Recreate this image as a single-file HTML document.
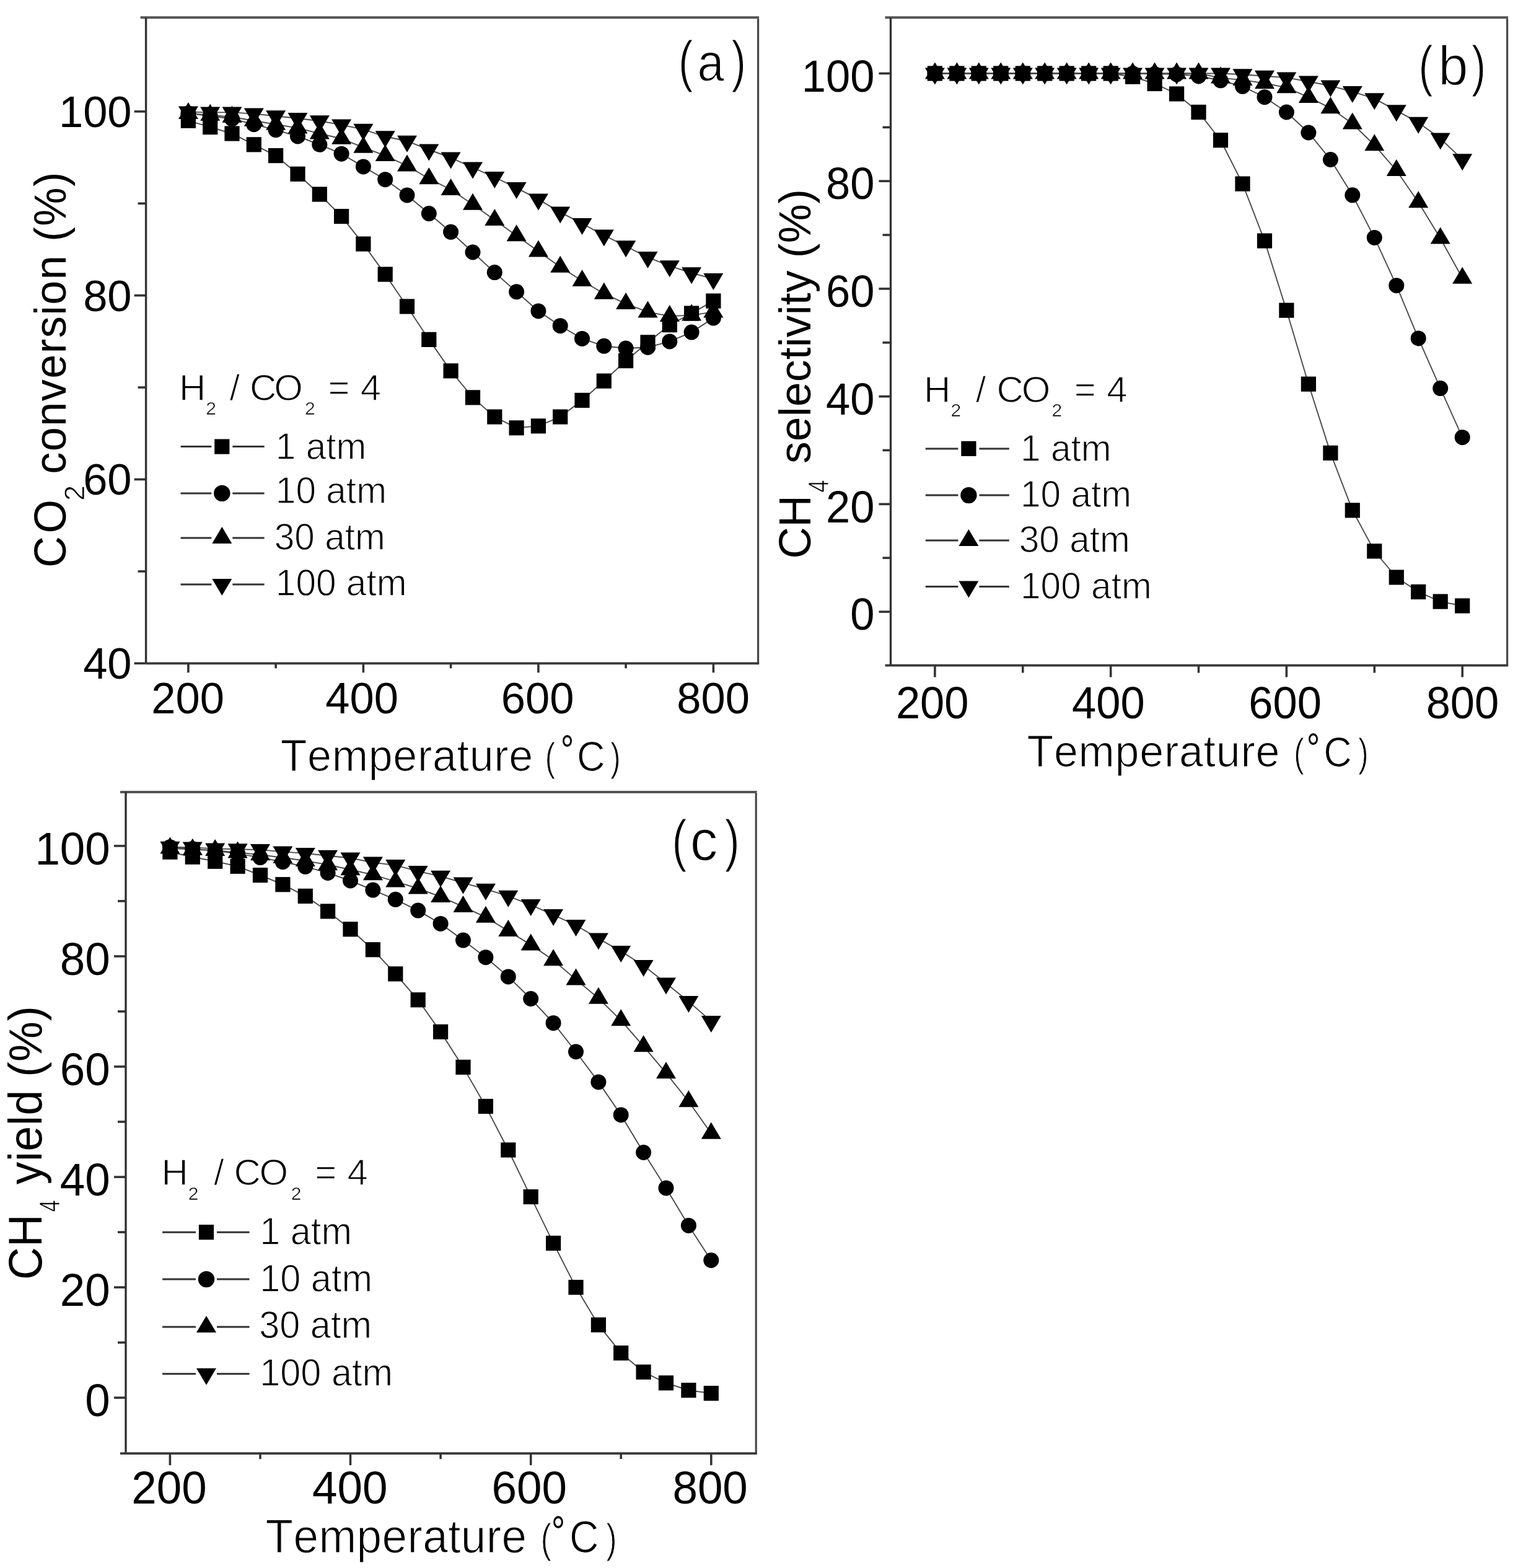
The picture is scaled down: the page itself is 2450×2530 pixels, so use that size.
<!DOCTYPE html>
<html><head><meta charset="utf-8"><title>Figure</title>
<style>html,body{margin:0;padding:0;background:#fff;overflow:hidden} svg{display:block} text{font-family:"Liberation Sans", Arial, sans-serif;fill:#000;font-kerning:none}</style>
</head><body>
<svg width="2450" height="2530" viewBox="0 0 2450 2530">
<rect width="2450" height="2530" fill="#fff"/>
<g>
<polyline points="303.9,194.7 339.2,205.1 374.5,215.5 409.8,233.3 445.1,251.1 480.5,280.8 515.8,313.5 551.1,349.1 586.4,393.6 621.7,442.6 657.0,494.5 692.3,547.9 727.6,598.4 763.0,641.4 798.3,672.6 833.6,690.4 868.9,687.4 904.2,672.6 939.5,645.9 974.8,614.7 1010.1,582.1 1045.5,552.4 1080.8,524.2 1116.1,505.6 1151.4,485.6" fill="none" stroke="#4a4a4a" stroke-width="1.9"/>
<polyline points="303.9,182.9 339.2,187.3 374.5,191.8 409.8,200.7 445.1,209.6 480.5,220.0 515.8,233.3 551.1,248.2 586.4,268.9 621.7,289.7 657.0,314.9 692.3,344.6 727.6,374.3 763.0,407.0 798.3,439.6 833.6,470.8 868.9,501.9 904.2,525.7 939.5,546.4 974.8,558.3 1010.1,562.0 1045.5,560.5 1080.8,550.9 1116.1,536.1 1151.4,513.1" fill="none" stroke="#4a4a4a" stroke-width="1.9"/>
<polyline points="303.9,182.9 339.2,185.8 374.5,188.8 409.8,194.7 445.1,200.7 480.5,206.6 515.8,215.5 551.1,223.7 586.4,237.8 621.7,251.1 657.0,267.5 692.3,288.2 727.6,306.0 763.0,329.8 798.3,355.0 833.6,380.2 868.9,405.5 904.2,430.7 939.5,453.0 974.8,473.7 1010.1,490.1 1045.5,503.4 1080.8,510.1 1116.1,508.6 1151.4,503.4" fill="none" stroke="#4a4a4a" stroke-width="1.9"/>
<polyline points="303.9,180.6 339.2,181.4 374.5,181.4 409.8,183.6 445.1,187.3 480.5,191.0 515.8,195.2 551.1,201.4 586.4,208.8 621.7,220.3 657.0,227.7 692.3,241.5 727.6,254.5 763.0,270.4 798.3,286.0 833.6,303.1 868.9,321.6 904.2,342.4 939.5,360.9 974.8,379.5 1010.1,397.3 1045.5,415.1 1080.8,429.2 1116.1,440.3 1151.4,450.0" fill="none" stroke="#4a4a4a" stroke-width="1.9"/>
<g fill="#000"><rect x="291.8" y="182.6" width="24.2" height="24.2"/><rect x="327.1" y="193.0" width="24.2" height="24.2"/><rect x="362.4" y="203.4" width="24.2" height="24.2"/><rect x="397.7" y="221.2" width="24.2" height="24.2"/><rect x="433.0" y="239.0" width="24.2" height="24.2"/><rect x="468.4" y="268.7" width="24.2" height="24.2"/><rect x="503.7" y="301.4" width="24.2" height="24.2"/><rect x="539.0" y="337.0" width="24.2" height="24.2"/><rect x="574.3" y="381.5" width="24.2" height="24.2"/><rect x="609.6" y="430.5" width="24.2" height="24.2"/><rect x="644.9" y="482.4" width="24.2" height="24.2"/><rect x="680.2" y="535.8" width="24.2" height="24.2"/><rect x="715.5" y="586.3" width="24.2" height="24.2"/><rect x="750.9" y="629.3" width="24.2" height="24.2"/><rect x="786.2" y="660.5" width="24.2" height="24.2"/><rect x="821.5" y="678.3" width="24.2" height="24.2"/><rect x="856.8" y="675.3" width="24.2" height="24.2"/><rect x="892.1" y="660.5" width="24.2" height="24.2"/><rect x="927.4" y="633.8" width="24.2" height="24.2"/><rect x="962.7" y="602.6" width="24.2" height="24.2"/><rect x="998.0" y="570.0" width="24.2" height="24.2"/><rect x="1033.4" y="540.3" width="24.2" height="24.2"/><rect x="1068.7" y="512.1" width="24.2" height="24.2"/><rect x="1104.0" y="493.5" width="24.2" height="24.2"/><rect x="1139.3" y="473.5" width="24.2" height="24.2"/></g>
<g fill="#000"><circle cx="303.9" cy="182.9" r="12.5"/><circle cx="339.2" cy="187.3" r="12.5"/><circle cx="374.5" cy="191.8" r="12.5"/><circle cx="409.8" cy="200.7" r="12.5"/><circle cx="445.1" cy="209.6" r="12.5"/><circle cx="480.5" cy="220.0" r="12.5"/><circle cx="515.8" cy="233.3" r="12.5"/><circle cx="551.1" cy="248.2" r="12.5"/><circle cx="586.4" cy="268.9" r="12.5"/><circle cx="621.7" cy="289.7" r="12.5"/><circle cx="657.0" cy="314.9" r="12.5"/><circle cx="692.3" cy="344.6" r="12.5"/><circle cx="727.6" cy="374.3" r="12.5"/><circle cx="763.0" cy="407.0" r="12.5"/><circle cx="798.3" cy="439.6" r="12.5"/><circle cx="833.6" cy="470.8" r="12.5"/><circle cx="868.9" cy="501.9" r="12.5"/><circle cx="904.2" cy="525.7" r="12.5"/><circle cx="939.5" cy="546.4" r="12.5"/><circle cx="974.8" cy="558.3" r="12.5"/><circle cx="1010.1" cy="562.0" r="12.5"/><circle cx="1045.5" cy="560.5" r="12.5"/><circle cx="1080.8" cy="550.9" r="12.5"/><circle cx="1116.1" cy="536.1" r="12.5"/><circle cx="1151.4" cy="513.1" r="12.5"/></g>
<g fill="#000"><polygon points="303.9,164.9 319.9,191.9 287.9,191.9"/><polygon points="339.2,167.8 355.2,194.8 323.2,194.8"/><polygon points="374.5,170.8 390.5,197.8 358.5,197.8"/><polygon points="409.8,176.7 425.8,203.7 393.8,203.7"/><polygon points="445.1,182.7 461.1,209.7 429.1,209.7"/><polygon points="480.5,188.6 496.5,215.6 464.5,215.6"/><polygon points="515.8,197.5 531.8,224.5 499.8,224.5"/><polygon points="551.1,205.7 567.1,232.7 535.1,232.7"/><polygon points="586.4,219.8 602.4,246.8 570.4,246.8"/><polygon points="621.7,233.1 637.7,260.1 605.7,260.1"/><polygon points="657.0,249.5 673.0,276.5 641.0,276.5"/><polygon points="692.3,270.2 708.3,297.2 676.3,297.2"/><polygon points="727.6,288.0 743.6,315.0 711.6,315.0"/><polygon points="763.0,311.8 779.0,338.8 747.0,338.8"/><polygon points="798.3,337.0 814.3,364.0 782.3,364.0"/><polygon points="833.6,362.2 849.6,389.2 817.6,389.2"/><polygon points="868.9,387.5 884.9,414.5 852.9,414.5"/><polygon points="904.2,412.7 920.2,439.7 888.2,439.7"/><polygon points="939.5,435.0 955.5,462.0 923.5,462.0"/><polygon points="974.8,455.7 990.8,482.7 958.8,482.7"/><polygon points="1010.1,472.1 1026.2,499.1 994.1,499.1"/><polygon points="1045.5,485.4 1061.5,512.4 1029.5,512.4"/><polygon points="1080.8,492.1 1096.8,519.1 1064.8,519.1"/><polygon points="1116.1,490.6 1132.1,517.6 1100.1,517.6"/><polygon points="1151.4,485.4 1167.4,512.4 1135.4,512.4"/></g>
<g fill="#000"><polygon points="287.9,171.6 319.9,171.6 303.9,198.6"/><polygon points="323.2,172.4 355.2,172.4 339.2,199.4"/><polygon points="358.5,172.4 390.5,172.4 374.5,199.4"/><polygon points="393.8,174.6 425.8,174.6 409.8,201.6"/><polygon points="429.1,178.3 461.1,178.3 445.1,205.3"/><polygon points="464.5,182.0 496.5,182.0 480.5,209.0"/><polygon points="499.8,186.2 531.8,186.2 515.8,213.2"/><polygon points="535.1,192.4 567.1,192.4 551.1,219.4"/><polygon points="570.4,199.8 602.4,199.8 586.4,226.8"/><polygon points="605.7,211.3 637.7,211.3 621.7,238.3"/><polygon points="641.0,218.7 673.0,218.7 657.0,245.7"/><polygon points="676.3,232.5 708.3,232.5 692.3,259.5"/><polygon points="711.6,245.5 743.6,245.5 727.6,272.5"/><polygon points="747.0,261.4 779.0,261.4 763.0,288.4"/><polygon points="782.3,277.0 814.3,277.0 798.3,304.0"/><polygon points="817.6,294.1 849.6,294.1 833.6,321.1"/><polygon points="852.9,312.6 884.9,312.6 868.9,339.6"/><polygon points="888.2,333.4 920.2,333.4 904.2,360.4"/><polygon points="923.5,351.9 955.5,351.9 939.5,378.9"/><polygon points="958.8,370.5 990.8,370.5 974.8,397.5"/><polygon points="994.1,388.3 1026.2,388.3 1010.1,415.3"/><polygon points="1029.5,406.1 1061.5,406.1 1045.5,433.1"/><polygon points="1064.8,420.2 1096.8,420.2 1080.8,447.2"/><polygon points="1100.1,431.3 1132.1,431.3 1116.1,458.3"/><polygon points="1135.4,441.0 1167.4,441.0 1151.4,468.0"/></g>
<line x1="226.6" y1="28.3" x2="1225.1" y2="28.3" stroke="#555" stroke-width="4"/>
<line x1="1223.6" y1="30.3" x2="1223.6" y2="1070.3" stroke="#474747" stroke-width="3.2"/>
<line x1="235.6" y1="28.3" x2="235.6" y2="1070.3" stroke="#333" stroke-width="3.4"/>
<line x1="235.6" y1="1070.3" x2="1225.1999999999998" y2="1070.3" stroke="#3a3a3a" stroke-width="3.8"/>
<line x1="216.6" y1="1070.3" x2="235.6" y2="1070.3" stroke="#333" stroke-width="3.6"/>
<line x1="222.6" y1="921.9" x2="235.6" y2="921.9" stroke="#333" stroke-width="3.6"/>
<line x1="216.6" y1="773.5" x2="235.6" y2="773.5" stroke="#333" stroke-width="3.6"/>
<line x1="222.6" y1="625.1" x2="235.6" y2="625.1" stroke="#333" stroke-width="3.6"/>
<line x1="216.6" y1="476.7" x2="235.6" y2="476.7" stroke="#333" stroke-width="3.6"/>
<line x1="222.6" y1="328.3" x2="235.6" y2="328.3" stroke="#333" stroke-width="3.6"/>
<line x1="216.6" y1="179.9" x2="235.6" y2="179.9" stroke="#333" stroke-width="3.6"/>
<line x1="303.9" y1="1070.3" x2="303.9" y2="1085.3" stroke="#333" stroke-width="3.6"/>
<line x1="445.1" y1="1070.3" x2="445.1" y2="1078.3" stroke="#333" stroke-width="3.6"/>
<line x1="586.4" y1="1070.3" x2="586.4" y2="1085.3" stroke="#333" stroke-width="3.6"/>
<line x1="727.6" y1="1070.3" x2="727.6" y2="1078.3" stroke="#333" stroke-width="3.6"/>
<line x1="868.9" y1="1070.3" x2="868.9" y2="1085.3" stroke="#333" stroke-width="3.6"/>
<line x1="1010.1" y1="1070.3" x2="1010.1" y2="1078.3" stroke="#333" stroke-width="3.6"/>
<line x1="1151.4" y1="1070.3" x2="1151.4" y2="1085.3" stroke="#333" stroke-width="3.6"/>
<polyline points="1508.9,118.5 1544.4,118.5 1579.8,118.5 1615.3,118.5 1650.8,118.5 1686.2,118.5 1721.7,118.5 1757.2,118.5 1792.7,118.5 1828.1,123.7 1863.6,135.0 1899.1,151.5 1934.5,181.0 1970.0,226.2 2005.5,296.6 2041.0,388.6 2076.4,500.7 2111.9,619.7 2147.4,730.9 2182.8,823.4 2218.3,889.3 2253.8,931.5 2289.2,955.0 2324.7,970.6 2360.2,977.5" fill="none" stroke="#4a4a4a" stroke-width="1.9"/>
<polyline points="1508.9,118.5 1544.4,118.5 1579.8,118.5 1615.3,118.5 1650.8,118.5 1686.2,118.5 1721.7,118.5 1757.2,118.5 1792.7,118.5 1828.1,118.5 1863.6,119.4 1899.1,119.8 1934.5,122.8 1970.0,129.8 2005.5,139.3 2041.0,156.7 2076.4,181.0 2111.9,214.0 2147.4,257.5 2182.8,314.8 2218.3,383.4 2253.8,460.7 2289.2,545.9 2324.7,626.6 2360.2,705.7" fill="none" stroke="#4a4a4a" stroke-width="1.9"/>
<polyline points="1508.9,118.5 1544.4,118.5 1579.8,118.5 1615.3,118.5 1650.8,118.5 1686.2,118.5 1721.7,118.5 1757.2,118.5 1792.7,118.5 1828.1,118.5 1863.6,118.5 1899.1,118.5 1934.5,118.5 1970.0,125.6 2005.5,129.1 2041.0,134.3 2076.4,141.3 2111.9,156.9 2147.4,174.3 2182.8,199.5 2218.3,234.2 2253.8,275.0 2289.2,326.3 2324.7,384.5 2360.2,448.7" fill="none" stroke="#4a4a4a" stroke-width="1.9"/>
<polyline points="1508.9,118.5 1544.4,118.5 1579.8,118.5 1615.3,118.5 1650.8,118.5 1686.2,118.5 1721.7,118.5 1757.2,118.5 1792.7,118.5 1828.1,118.5 1863.6,118.5 1899.1,118.5 1934.5,118.5 1970.0,118.5 2005.5,120.2 2041.0,122.8 2076.4,125.4 2111.9,131.5 2147.4,138.5 2182.8,147.9 2218.3,159.2 2253.8,178.3 2289.2,197.8 2324.7,223.4 2360.2,257.3" fill="none" stroke="#4a4a4a" stroke-width="1.9"/>
<g fill="#000"><rect x="1496.8" y="106.4" width="24.2" height="24.2"/><rect x="1532.3" y="106.4" width="24.2" height="24.2"/><rect x="1567.7" y="106.4" width="24.2" height="24.2"/><rect x="1603.2" y="106.4" width="24.2" height="24.2"/><rect x="1638.7" y="106.4" width="24.2" height="24.2"/><rect x="1674.2" y="106.4" width="24.2" height="24.2"/><rect x="1709.6" y="106.4" width="24.2" height="24.2"/><rect x="1745.1" y="106.4" width="24.2" height="24.2"/><rect x="1780.6" y="106.4" width="24.2" height="24.2"/><rect x="1816.0" y="111.6" width="24.2" height="24.2"/><rect x="1851.5" y="122.9" width="24.2" height="24.2"/><rect x="1887.0" y="139.4" width="24.2" height="24.2"/><rect x="1922.4" y="168.9" width="24.2" height="24.2"/><rect x="1957.9" y="214.1" width="24.2" height="24.2"/><rect x="1993.4" y="284.5" width="24.2" height="24.2"/><rect x="2028.9" y="376.5" width="24.2" height="24.2"/><rect x="2064.3" y="488.6" width="24.2" height="24.2"/><rect x="2099.8" y="607.6" width="24.2" height="24.2"/><rect x="2135.3" y="718.8" width="24.2" height="24.2"/><rect x="2170.7" y="811.3" width="24.2" height="24.2"/><rect x="2206.2" y="877.2" width="24.2" height="24.2"/><rect x="2241.7" y="919.4" width="24.2" height="24.2"/><rect x="2277.1" y="942.9" width="24.2" height="24.2"/><rect x="2312.6" y="958.5" width="24.2" height="24.2"/><rect x="2348.1" y="965.4" width="24.2" height="24.2"/></g>
<g fill="#000"><circle cx="1508.9" cy="118.5" r="12.5"/><circle cx="1544.4" cy="118.5" r="12.5"/><circle cx="1579.8" cy="118.5" r="12.5"/><circle cx="1615.3" cy="118.5" r="12.5"/><circle cx="1650.8" cy="118.5" r="12.5"/><circle cx="1686.2" cy="118.5" r="12.5"/><circle cx="1721.7" cy="118.5" r="12.5"/><circle cx="1757.2" cy="118.5" r="12.5"/><circle cx="1792.7" cy="118.5" r="12.5"/><circle cx="1828.1" cy="118.5" r="12.5"/><circle cx="1863.6" cy="119.4" r="12.5"/><circle cx="1899.1" cy="119.8" r="12.5"/><circle cx="1934.5" cy="122.8" r="12.5"/><circle cx="1970.0" cy="129.8" r="12.5"/><circle cx="2005.5" cy="139.3" r="12.5"/><circle cx="2041.0" cy="156.7" r="12.5"/><circle cx="2076.4" cy="181.0" r="12.5"/><circle cx="2111.9" cy="214.0" r="12.5"/><circle cx="2147.4" cy="257.5" r="12.5"/><circle cx="2182.8" cy="314.8" r="12.5"/><circle cx="2218.3" cy="383.4" r="12.5"/><circle cx="2253.8" cy="460.7" r="12.5"/><circle cx="2289.2" cy="545.9" r="12.5"/><circle cx="2324.7" cy="626.6" r="12.5"/><circle cx="2360.2" cy="705.7" r="12.5"/></g>
<g fill="#000"><polygon points="1508.9,100.5 1524.9,127.5 1492.9,127.5"/><polygon points="1544.4,100.5 1560.4,127.5 1528.4,127.5"/><polygon points="1579.8,100.5 1595.8,127.5 1563.8,127.5"/><polygon points="1615.3,100.5 1631.3,127.5 1599.3,127.5"/><polygon points="1650.8,100.5 1666.8,127.5 1634.8,127.5"/><polygon points="1686.2,100.5 1702.2,127.5 1670.2,127.5"/><polygon points="1721.7,100.5 1737.7,127.5 1705.7,127.5"/><polygon points="1757.2,100.5 1773.2,127.5 1741.2,127.5"/><polygon points="1792.7,100.5 1808.7,127.5 1776.7,127.5"/><polygon points="1828.1,100.5 1844.1,127.5 1812.1,127.5"/><polygon points="1863.6,100.5 1879.6,127.5 1847.6,127.5"/><polygon points="1899.1,100.5 1915.1,127.5 1883.1,127.5"/><polygon points="1934.5,100.5 1950.5,127.5 1918.5,127.5"/><polygon points="1970.0,107.6 1986.0,134.6 1954.0,134.6"/><polygon points="2005.5,111.1 2021.5,138.1 1989.5,138.1"/><polygon points="2041.0,116.3 2057.0,143.3 2025.0,143.3"/><polygon points="2076.4,123.3 2092.4,150.3 2060.4,150.3"/><polygon points="2111.9,138.9 2127.9,165.9 2095.9,165.9"/><polygon points="2147.4,156.3 2163.4,183.3 2131.4,183.3"/><polygon points="2182.8,181.5 2198.8,208.5 2166.8,208.5"/><polygon points="2218.3,216.2 2234.3,243.2 2202.3,243.2"/><polygon points="2253.8,257.0 2269.8,284.0 2237.8,284.0"/><polygon points="2289.2,308.3 2305.2,335.3 2273.2,335.3"/><polygon points="2324.7,366.5 2340.7,393.5 2308.7,393.5"/><polygon points="2360.2,430.7 2376.2,457.7 2344.2,457.7"/></g>
<g fill="#000"><polygon points="1492.9,109.5 1524.9,109.5 1508.9,136.5"/><polygon points="1528.4,109.5 1560.4,109.5 1544.4,136.5"/><polygon points="1563.8,109.5 1595.8,109.5 1579.8,136.5"/><polygon points="1599.3,109.5 1631.3,109.5 1615.3,136.5"/><polygon points="1634.8,109.5 1666.8,109.5 1650.8,136.5"/><polygon points="1670.2,109.5 1702.2,109.5 1686.2,136.5"/><polygon points="1705.7,109.5 1737.7,109.5 1721.7,136.5"/><polygon points="1741.2,109.5 1773.2,109.5 1757.2,136.5"/><polygon points="1776.7,109.5 1808.7,109.5 1792.7,136.5"/><polygon points="1812.1,109.5 1844.1,109.5 1828.1,136.5"/><polygon points="1847.6,109.5 1879.6,109.5 1863.6,136.5"/><polygon points="1883.1,109.5 1915.1,109.5 1899.1,136.5"/><polygon points="1918.5,109.5 1950.5,109.5 1934.5,136.5"/><polygon points="1954.0,109.5 1986.0,109.5 1970.0,136.5"/><polygon points="1989.5,111.2 2021.5,111.2 2005.5,138.2"/><polygon points="2025.0,113.8 2057.0,113.8 2041.0,140.8"/><polygon points="2060.4,116.4 2092.4,116.4 2076.4,143.4"/><polygon points="2095.9,122.5 2127.9,122.5 2111.9,149.5"/><polygon points="2131.4,129.5 2163.4,129.5 2147.4,156.5"/><polygon points="2166.8,138.9 2198.8,138.9 2182.8,165.9"/><polygon points="2202.3,150.2 2234.3,150.2 2218.3,177.2"/><polygon points="2237.8,169.3 2269.8,169.3 2253.8,196.3"/><polygon points="2273.2,188.8 2305.2,188.8 2289.2,215.8"/><polygon points="2308.7,214.4 2340.7,214.4 2324.7,241.4"/><polygon points="2344.2,248.3 2376.2,248.3 2360.2,275.3"/></g>
<line x1="1428.5" y1="28.3" x2="2434.1" y2="28.3" stroke="#555" stroke-width="4"/>
<line x1="2432.6" y1="30.3" x2="2432.6" y2="1073.6" stroke="#474747" stroke-width="3.2"/>
<line x1="1437.5" y1="28.3" x2="1437.5" y2="1073.6" stroke="#333" stroke-width="3.4"/>
<line x1="1428.5" y1="1073.6" x2="2434.2" y2="1073.6" stroke="#3a3a3a" stroke-width="3.8"/>
<line x1="1418.5" y1="987.1" x2="1437.5" y2="987.1" stroke="#333" stroke-width="3.6"/>
<line x1="1424.5" y1="900.2" x2="1437.5" y2="900.2" stroke="#333" stroke-width="3.6"/>
<line x1="1418.5" y1="813.4" x2="1437.5" y2="813.4" stroke="#333" stroke-width="3.6"/>
<line x1="1424.5" y1="726.5" x2="1437.5" y2="726.5" stroke="#333" stroke-width="3.6"/>
<line x1="1418.5" y1="639.7" x2="1437.5" y2="639.7" stroke="#333" stroke-width="3.6"/>
<line x1="1424.5" y1="552.8" x2="1437.5" y2="552.8" stroke="#333" stroke-width="3.6"/>
<line x1="1418.5" y1="465.9" x2="1437.5" y2="465.9" stroke="#333" stroke-width="3.6"/>
<line x1="1424.5" y1="379.1" x2="1437.5" y2="379.1" stroke="#333" stroke-width="3.6"/>
<line x1="1418.5" y1="292.2" x2="1437.5" y2="292.2" stroke="#333" stroke-width="3.6"/>
<line x1="1424.5" y1="205.4" x2="1437.5" y2="205.4" stroke="#333" stroke-width="3.6"/>
<line x1="1418.5" y1="118.5" x2="1437.5" y2="118.5" stroke="#333" stroke-width="3.6"/>
<line x1="1508.9" y1="1073.6" x2="1508.9" y2="1092.6" stroke="#333" stroke-width="3.6"/>
<line x1="1650.8" y1="1073.6" x2="1650.8" y2="1085.6" stroke="#333" stroke-width="3.6"/>
<line x1="1792.7" y1="1073.6" x2="1792.7" y2="1092.6" stroke="#333" stroke-width="3.6"/>
<line x1="1934.5" y1="1073.6" x2="1934.5" y2="1085.6" stroke="#333" stroke-width="3.6"/>
<line x1="2076.4" y1="1073.6" x2="2076.4" y2="1092.6" stroke="#333" stroke-width="3.6"/>
<line x1="2218.3" y1="1073.6" x2="2218.3" y2="1085.6" stroke="#333" stroke-width="3.6"/>
<line x1="2360.2" y1="1073.6" x2="2360.2" y2="1092.6" stroke="#333" stroke-width="3.6"/>
<polyline points="274.4,1374.7 310.8,1382.7 347.2,1389.8 383.6,1397.8 420.0,1412.1 456.4,1427.2 492.8,1445.9 529.1,1470.4 565.5,1499.3 601.9,1532.3 638.3,1571.4 674.7,1613.3 711.1,1664.9 747.5,1721.9 783.9,1785.1 820.3,1855.5 856.7,1931.1 893.1,2005.9 929.5,2077.1 965.9,2137.7 1002.2,2183.1 1038.6,2213.8 1075.0,2231.4 1111.4,2243.2 1147.8,2248.1" fill="none" stroke="#4a4a4a" stroke-width="1.9"/>
<polyline points="274.4,1366.7 310.8,1369.4 347.2,1372.9 383.6,1377.4 420.0,1383.6 456.4,1390.7 492.8,1398.3 529.1,1408.5 565.5,1421.0 601.9,1436.1 638.3,1451.3 674.7,1469.1 711.1,1490.4 747.5,1517.1 783.9,1544.7 820.3,1575.9 856.7,1611.5 893.1,1650.7 929.5,1697.0 965.9,1745.9 1002.2,1798.9 1038.6,1859.5 1075.0,1916.9 1111.4,1977.4 1147.8,2033.5" fill="none" stroke="#4a4a4a" stroke-width="1.9"/>
<polyline points="274.4,1368.6 310.8,1370.7 347.2,1372.1 383.6,1375.4 420.0,1379.2 456.4,1383.7 492.8,1389.0 529.1,1395.3 565.5,1403.3 601.9,1411.3 638.3,1422.4 674.7,1433.5 711.1,1446.9 747.5,1462.9 783.9,1479.8 820.3,1502.1 856.7,1524.4 893.1,1549.3 929.5,1580.4 965.9,1610.7 1002.2,1646.3 1038.6,1688.2 1075.0,1731.3 1111.4,1777.2 1147.8,1828.8" fill="none" stroke="#4a4a4a" stroke-width="1.9"/>
<polyline points="274.4,1366.7 310.8,1367.4 347.2,1369.4 383.6,1370.2 420.0,1371.1 456.4,1374.4 492.8,1376.9 529.1,1380.7 565.5,1384.5 601.9,1391.6 638.3,1396.1 674.7,1405.9 711.1,1413.8 747.5,1424.5 783.9,1434.7 820.3,1445.8 856.7,1460.1 893.1,1476.1 929.5,1493.0 965.9,1514.4 1002.2,1534.9 1038.6,1558.0 1075.0,1586.5 1111.4,1615.9 1147.8,1647.9" fill="none" stroke="#4a4a4a" stroke-width="1.9"/>
<g fill="#000"><rect x="262.3" y="1362.6" width="24.2" height="24.2"/><rect x="298.7" y="1370.6" width="24.2" height="24.2"/><rect x="335.1" y="1377.7" width="24.2" height="24.2"/><rect x="371.5" y="1385.7" width="24.2" height="24.2"/><rect x="407.9" y="1400.0" width="24.2" height="24.2"/><rect x="444.3" y="1415.1" width="24.2" height="24.2"/><rect x="480.7" y="1433.8" width="24.2" height="24.2"/><rect x="517.0" y="1458.3" width="24.2" height="24.2"/><rect x="553.4" y="1487.2" width="24.2" height="24.2"/><rect x="589.8" y="1520.2" width="24.2" height="24.2"/><rect x="626.2" y="1559.3" width="24.2" height="24.2"/><rect x="662.6" y="1601.2" width="24.2" height="24.2"/><rect x="699.0" y="1652.8" width="24.2" height="24.2"/><rect x="735.4" y="1709.8" width="24.2" height="24.2"/><rect x="771.8" y="1773.0" width="24.2" height="24.2"/><rect x="808.2" y="1843.4" width="24.2" height="24.2"/><rect x="844.6" y="1919.0" width="24.2" height="24.2"/><rect x="881.0" y="1993.8" width="24.2" height="24.2"/><rect x="917.4" y="2065.0" width="24.2" height="24.2"/><rect x="953.8" y="2125.6" width="24.2" height="24.2"/><rect x="990.1" y="2171.0" width="24.2" height="24.2"/><rect x="1026.5" y="2201.7" width="24.2" height="24.2"/><rect x="1062.9" y="2219.3" width="24.2" height="24.2"/><rect x="1099.3" y="2231.1" width="24.2" height="24.2"/><rect x="1135.7" y="2236.0" width="24.2" height="24.2"/></g>
<g fill="#000"><circle cx="274.4" cy="1366.7" r="12.5"/><circle cx="310.8" cy="1369.4" r="12.5"/><circle cx="347.2" cy="1372.9" r="12.5"/><circle cx="383.6" cy="1377.4" r="12.5"/><circle cx="420.0" cy="1383.6" r="12.5"/><circle cx="456.4" cy="1390.7" r="12.5"/><circle cx="492.8" cy="1398.3" r="12.5"/><circle cx="529.1" cy="1408.5" r="12.5"/><circle cx="565.5" cy="1421.0" r="12.5"/><circle cx="601.9" cy="1436.1" r="12.5"/><circle cx="638.3" cy="1451.3" r="12.5"/><circle cx="674.7" cy="1469.1" r="12.5"/><circle cx="711.1" cy="1490.4" r="12.5"/><circle cx="747.5" cy="1517.1" r="12.5"/><circle cx="783.9" cy="1544.7" r="12.5"/><circle cx="820.3" cy="1575.9" r="12.5"/><circle cx="856.7" cy="1611.5" r="12.5"/><circle cx="893.1" cy="1650.7" r="12.5"/><circle cx="929.5" cy="1697.0" r="12.5"/><circle cx="965.9" cy="1745.9" r="12.5"/><circle cx="1002.2" cy="1798.9" r="12.5"/><circle cx="1038.6" cy="1859.5" r="12.5"/><circle cx="1075.0" cy="1916.9" r="12.5"/><circle cx="1111.4" cy="1977.4" r="12.5"/><circle cx="1147.8" cy="2033.5" r="12.5"/></g>
<g fill="#000"><polygon points="274.4,1350.6 290.4,1377.6 258.4,1377.6"/><polygon points="310.8,1352.7 326.8,1379.7 294.8,1379.7"/><polygon points="347.2,1354.1 363.2,1381.1 331.2,1381.1"/><polygon points="383.6,1357.4 399.6,1384.4 367.6,1384.4"/><polygon points="420.0,1361.2 436.0,1388.2 404.0,1388.2"/><polygon points="456.4,1365.7 472.4,1392.7 440.4,1392.7"/><polygon points="492.8,1371.0 508.8,1398.0 476.8,1398.0"/><polygon points="529.1,1377.3 545.1,1404.3 513.1,1404.3"/><polygon points="565.5,1385.3 581.5,1412.3 549.5,1412.3"/><polygon points="601.9,1393.3 617.9,1420.3 585.9,1420.3"/><polygon points="638.3,1404.4 654.3,1431.4 622.3,1431.4"/><polygon points="674.7,1415.5 690.7,1442.5 658.7,1442.5"/><polygon points="711.1,1428.9 727.1,1455.9 695.1,1455.9"/><polygon points="747.5,1444.9 763.5,1471.9 731.5,1471.9"/><polygon points="783.9,1461.8 799.9,1488.8 767.9,1488.8"/><polygon points="820.3,1484.1 836.3,1511.1 804.3,1511.1"/><polygon points="856.7,1506.4 872.7,1533.4 840.7,1533.4"/><polygon points="893.1,1531.3 909.1,1558.3 877.1,1558.3"/><polygon points="929.5,1562.4 945.5,1589.4 913.5,1589.4"/><polygon points="965.9,1592.7 981.9,1619.7 949.9,1619.7"/><polygon points="1002.2,1628.3 1018.2,1655.3 986.2,1655.3"/><polygon points="1038.6,1670.2 1054.6,1697.2 1022.6,1697.2"/><polygon points="1075.0,1713.3 1091.0,1740.3 1059.0,1740.3"/><polygon points="1111.4,1759.2 1127.4,1786.2 1095.4,1786.2"/><polygon points="1147.8,1810.8 1163.8,1837.8 1131.8,1837.8"/></g>
<g fill="#000"><polygon points="258.4,1357.7 290.4,1357.7 274.4,1384.7"/><polygon points="294.8,1358.4 326.8,1358.4 310.8,1385.4"/><polygon points="331.2,1360.4 363.2,1360.4 347.2,1387.4"/><polygon points="367.6,1361.2 399.6,1361.2 383.6,1388.2"/><polygon points="404.0,1362.1 436.0,1362.1 420.0,1389.1"/><polygon points="440.4,1365.4 472.4,1365.4 456.4,1392.4"/><polygon points="476.8,1367.9 508.8,1367.9 492.8,1394.9"/><polygon points="513.1,1371.7 545.1,1371.7 529.1,1398.7"/><polygon points="549.5,1375.5 581.5,1375.5 565.5,1402.5"/><polygon points="585.9,1382.6 617.9,1382.6 601.9,1409.6"/><polygon points="622.3,1387.1 654.3,1387.1 638.3,1414.1"/><polygon points="658.7,1396.9 690.7,1396.9 674.7,1423.9"/><polygon points="695.1,1404.8 727.1,1404.8 711.1,1431.8"/><polygon points="731.5,1415.5 763.5,1415.5 747.5,1442.5"/><polygon points="767.9,1425.7 799.9,1425.7 783.9,1452.7"/><polygon points="804.3,1436.8 836.3,1436.8 820.3,1463.8"/><polygon points="840.7,1451.1 872.7,1451.1 856.7,1478.1"/><polygon points="877.1,1467.1 909.1,1467.1 893.1,1494.1"/><polygon points="913.5,1484.0 945.5,1484.0 929.5,1511.0"/><polygon points="949.9,1505.4 981.9,1505.4 965.9,1532.4"/><polygon points="986.2,1525.9 1018.2,1525.9 1002.2,1552.9"/><polygon points="1022.6,1549.0 1054.6,1549.0 1038.6,1576.0"/><polygon points="1059.0,1577.5 1091.0,1577.5 1075.0,1604.5"/><polygon points="1095.4,1606.9 1127.4,1606.9 1111.4,1633.9"/><polygon points="1131.8,1638.9 1163.8,1638.9 1147.8,1665.9"/></g>
<line x1="194.0" y1="1278.0" x2="1221.7" y2="1278.0" stroke="#555" stroke-width="4"/>
<line x1="1220.2" y1="1280.0" x2="1220.2" y2="2345.2" stroke="#474747" stroke-width="3.2"/>
<line x1="203.0" y1="1278.0" x2="203.0" y2="2345.2" stroke="#333" stroke-width="3.4"/>
<line x1="194.0" y1="2345.2" x2="1221.8" y2="2345.2" stroke="#3a3a3a" stroke-width="3.8"/>
<line x1="184.0" y1="2255.2" x2="203.0" y2="2255.2" stroke="#333" stroke-width="3.6"/>
<line x1="190.0" y1="2166.2" x2="203.0" y2="2166.2" stroke="#333" stroke-width="3.6"/>
<line x1="184.0" y1="2077.1" x2="203.0" y2="2077.1" stroke="#333" stroke-width="3.6"/>
<line x1="190.0" y1="1988.1" x2="203.0" y2="1988.1" stroke="#333" stroke-width="3.6"/>
<line x1="184.0" y1="1899.1" x2="203.0" y2="1899.1" stroke="#333" stroke-width="3.6"/>
<line x1="190.0" y1="1810.0" x2="203.0" y2="1810.0" stroke="#333" stroke-width="3.6"/>
<line x1="184.0" y1="1721.0" x2="203.0" y2="1721.0" stroke="#333" stroke-width="3.6"/>
<line x1="190.0" y1="1632.0" x2="203.0" y2="1632.0" stroke="#333" stroke-width="3.6"/>
<line x1="184.0" y1="1543.0" x2="203.0" y2="1543.0" stroke="#333" stroke-width="3.6"/>
<line x1="190.0" y1="1453.9" x2="203.0" y2="1453.9" stroke="#333" stroke-width="3.6"/>
<line x1="184.0" y1="1364.9" x2="203.0" y2="1364.9" stroke="#333" stroke-width="3.6"/>
<line x1="274.4" y1="2345.2" x2="274.4" y2="2364.2" stroke="#333" stroke-width="3.6"/>
<line x1="420.0" y1="2345.2" x2="420.0" y2="2354.2" stroke="#333" stroke-width="3.6"/>
<line x1="565.5" y1="2345.2" x2="565.5" y2="2364.2" stroke="#333" stroke-width="3.6"/>
<line x1="711.1" y1="2345.2" x2="711.1" y2="2354.2" stroke="#333" stroke-width="3.6"/>
<line x1="856.7" y1="2345.2" x2="856.7" y2="2364.2" stroke="#333" stroke-width="3.6"/>
<line x1="1002.2" y1="2345.2" x2="1002.2" y2="2354.2" stroke="#333" stroke-width="3.6"/>
<line x1="1147.8" y1="2345.2" x2="1147.8" y2="2364.2" stroke="#333" stroke-width="3.6"/>
<text transform="translate(134.14,1095.15) scale(1.0,1.01)" font-size="70.5">40</text>
<text transform="translate(134.14,798.35) scale(1.0,1.01)" font-size="70.5">60</text>
<text transform="translate(134.14,501.55) scale(1.0,1.01)" font-size="70.5">80</text>
<text transform="translate(94.93,204.75) scale(1.0,1.01)" font-size="70.5">100</text>
<text transform="translate(1372.15,1016.34) scale(1.0,1.03)" font-size="70.5">0</text>
<text transform="translate(1332.94,842.62) scale(1.0,1.03)" font-size="70.5">20</text>
<text transform="translate(1332.94,668.90) scale(1.0,1.03)" font-size="70.5">40</text>
<text transform="translate(1332.94,495.18) scale(1.0,1.03)" font-size="70.5">60</text>
<text transform="translate(1332.94,321.46) scale(1.0,1.03)" font-size="70.5">80</text>
<text transform="translate(1293.73,147.74) scale(1.0,1.03)" font-size="70.5">100</text>
<text transform="translate(137.36,2285.22) scale(1.0,1.02)" font-size="72.8">0</text>
<text transform="translate(96.87,2107.16) scale(1.0,1.02)" font-size="72.8">20</text>
<text transform="translate(96.87,1929.10) scale(1.0,1.02)" font-size="72.8">40</text>
<text transform="translate(96.87,1751.04) scale(1.0,1.02)" font-size="72.8">60</text>
<text transform="translate(96.87,1572.98) scale(1.0,1.02)" font-size="72.8">80</text>
<text transform="translate(56.38,1394.92) scale(1.0,1.02)" font-size="72.8">100</text>
<text transform="translate(244.29,1150.80) scale(1.0,1.01)" font-size="70.5">200</text>
<text transform="translate(525.35,1150.80) scale(1.0,1.01)" font-size="70.5">400</text>
<text transform="translate(808.87,1150.80) scale(1.0,1.01)" font-size="70.5">600</text>
<text transform="translate(1092.33,1150.80) scale(1.0,1.01)" font-size="70.5">800</text>
<text transform="translate(1445.89,1158.50) scale(1.0,1.03)" font-size="70.5">200</text>
<text transform="translate(1730.05,1158.50) scale(1.0,1.03)" font-size="70.5">400</text>
<text transform="translate(2015.37,1158.50) scale(1.0,1.03)" font-size="70.5">600</text>
<text transform="translate(2301.63,1158.50) scale(1.0,1.03)" font-size="70.5">800</text>
<text transform="translate(212.36,2425.90) scale(1.0,1.02)" font-size="72.8">200</text>
<text transform="translate(504.05,2425.90) scale(1.0,1.02)" font-size="72.8">400</text>
<text transform="translate(793.44,2425.90) scale(1.0,1.02)" font-size="72.8">600</text>
<text transform="translate(1085.41,2425.90) scale(1.0,1.02)" font-size="72.8">800</text>
<text transform="translate(1094.95,130.10) scale(0.78,1.0)" font-size="90" fill="#222" stroke="#fff" stroke-width="1.2">(</text>
<text transform="translate(1125.40,130.10) scale(0.8630671736375128,0.94)" font-size="90" fill="#222" stroke="#fff" stroke-width="1.5">a</text>
<text transform="translate(1180.49,130.10) scale(0.78,1.0)" font-size="90" fill="#222" stroke="#fff" stroke-width="1.2">)</text>
<text transform="translate(2289.40,136.80) scale(0.78,1.0)" font-size="89" fill="#222" stroke="#fff" stroke-width="1.2">(</text>
<text transform="translate(2321.31,136.80) scale(0.974417157705962,1.0)" font-size="89" fill="#222" stroke="#fff" stroke-width="1.5">b</text>
<text transform="translate(2374.99,136.80) scale(0.78,1.0)" font-size="89" fill="#222" stroke="#fff" stroke-width="1.2">)</text>
<text transform="translate(1084.55,1387.60) scale(0.78,1.0)" font-size="92" fill="#222" stroke="#fff" stroke-width="1.2">(</text>
<text transform="translate(1113.81,1387.60) scale(0.9706041656408488,1.0)" font-size="92" fill="#222" stroke="#fff" stroke-width="1.5">c</text>
<text transform="translate(1169.68,1387.60) scale(0.78,1.0)" font-size="92" fill="#222" stroke="#fff" stroke-width="1.2">)</text>
<text transform="translate(452.63,1244.30) scale(1.0,1.03)" font-size="70" letter-spacing="0.70" stroke="#fff" stroke-width="1.2">Temperature</text>
<text transform="translate(879.86,1244.30) scale(0.7,0.92)" font-size="70" fill="#222" stroke="#fff" stroke-width="1.2">(</text>
<text transform="translate(904.79,1234.39) scale(1.0,1.27)" font-size="53.9">°</text>
<text transform="translate(931.00,1244.30) scale(0.9,0.98)" font-size="70" stroke="#fff" stroke-width="1.2">C</text>
<text transform="translate(985.31,1244.30) scale(0.7,0.92)" font-size="70" fill="#222" stroke="#fff" stroke-width="1.2">)</text>
<text transform="translate(1657.43,1237.00) scale(1.0,1.03)" font-size="70" letter-spacing="0.73" stroke="#fff" stroke-width="1.2">Temperature</text>
<text transform="translate(2088.36,1237.00) scale(0.7,0.92)" font-size="70" fill="#222" stroke="#fff" stroke-width="1.2">(</text>
<text transform="translate(2108.79,1231.49) scale(1.0,1.27)" font-size="53.9">°</text>
<text transform="translate(2136.20,1237.00) scale(0.9,0.98)" font-size="70" stroke="#fff" stroke-width="1.2">C</text>
<text transform="translate(2192.21,1237.00) scale(0.7,0.92)" font-size="70" fill="#222" stroke="#fff" stroke-width="1.2">)</text>
<text transform="translate(428.46,2505.00) scale(1.0,1.03)" font-size="73" letter-spacing="0.38" stroke="#fff" stroke-width="1.2">Temperature</text>
<text transform="translate(872.83,2505.00) scale(0.7,0.92)" font-size="73" fill="#222" stroke="#fff" stroke-width="1.2">(</text>
<text transform="translate(889.85,2495.54) scale(1.0,1.27)" font-size="56.21">°</text>
<text transform="translate(918.96,2505.00) scale(0.9,0.98)" font-size="73" stroke="#fff" stroke-width="1.2">C</text>
<text transform="translate(978.50,2505.00) scale(0.7,0.92)" font-size="73" fill="#222" stroke="#fff" stroke-width="1.2">)</text>
<text transform="translate(105.60,915.75) rotate(-90) scale(1.0,1.03)" font-size="70" letter-spacing="4.60">CO</text>
<text transform="translate(136.30,807.96) rotate(-90) scale(1.0,1.03)" font-size="45" stroke="#fff" stroke-width="0.8">2</text>
<text transform="translate(105.60,764.67) rotate(-90) scale(1.0,1.03)" font-size="70" letter-spacing="1.55">conversion (%)</text>
<text transform="translate(1307.90,901.61) rotate(-90) scale(1.0,1.03)" font-size="71" letter-spacing="-0.25">CH</text>
<text transform="translate(1336.90,794.75) rotate(-90) scale(0.82,1.03)" font-size="45" stroke="#fff" stroke-width="0.8">4</text>
<text transform="translate(1307.90,747.88) rotate(-90) scale(1.0,1.03)" font-size="71" letter-spacing="0.36">selectivity (%)</text>
<text transform="translate(66.90,2064.91) rotate(-90) scale(1.0,1.03)" font-size="73" letter-spacing="0.12">CH</text>
<text transform="translate(95.90,1955.40) rotate(-90) scale(0.77,1.03)" font-size="45" stroke="#fff" stroke-width="0.8">4</text>
<text transform="translate(66.90,1911.18) rotate(-90) scale(1.0,1.03)" font-size="73" letter-spacing="0.51">yield (%)</text>
<text transform="translate(288.88,645.90)" font-size="60" fill="#505050" stroke="#fff" stroke-width="1.3">H</text>
<text transform="translate(332.19,668.60)" font-size="30" fill="#505050" stroke="#fff" stroke-width="0.6">2</text>
<text transform="translate(370.50,645.90)" font-size="60" fill="#505050" stroke="#fff" stroke-width="1.3">/</text>
<text transform="translate(402.95,645.90)" font-size="60" letter-spacing="-4.08" fill="#505050" stroke="#fff" stroke-width="1.3">CO</text>
<text transform="translate(492.09,668.60)" font-size="30" fill="#505050" stroke="#fff" stroke-width="0.6">2</text>
<text transform="translate(529.57,645.90)" font-size="60" fill="#505050" stroke="#fff" stroke-width="1.3">=</text>
<text transform="translate(581.82,645.90)" font-size="60" fill="#505050" stroke="#fff" stroke-width="1.3">4</text>
<line x1="291.6" y1="720.6" x2="341.3" y2="720.6" stroke="#333" stroke-width="3"/>
<line x1="375.3" y1="720.6" x2="426.6" y2="720.6" stroke="#333" stroke-width="3"/>
<g fill="#000"><rect x="346.2" y="708.5" width="24.2" height="24.2"/></g>
<text transform="translate(444.84,740.60) scale(1.0,1.045)" font-size="58.6" fill="#222" stroke="#fff" stroke-width="1.2">1 atm</text>
<line x1="291.6" y1="795.9" x2="341.3" y2="795.9" stroke="#333" stroke-width="3"/>
<line x1="375.3" y1="795.9" x2="426.6" y2="795.9" stroke="#333" stroke-width="3"/>
<g fill="#000"><circle cx="358.3" cy="795.9" r="13.2"/></g>
<text transform="translate(444.84,812.20) scale(1.0,1.045)" font-size="58.6" fill="#222" stroke="#fff" stroke-width="1.2">10 atm</text>
<line x1="291.6" y1="868" x2="341.3" y2="868" stroke="#333" stroke-width="3"/>
<line x1="375.3" y1="868" x2="426.6" y2="868" stroke="#333" stroke-width="3"/>
<g fill="#000"><polygon points="358.3,850.0 374.3,877.0 342.3,877.0"/></g>
<text transform="translate(442.77,887.20) scale(1.0,1.045)" font-size="58.6" fill="#222" stroke="#fff" stroke-width="1.2">30 atm</text>
<line x1="291.6" y1="943" x2="341.3" y2="943" stroke="#333" stroke-width="3"/>
<line x1="375.3" y1="943" x2="426.6" y2="943" stroke="#333" stroke-width="3"/>
<g fill="#000"><polygon points="342.3,934.0 374.3,934.0 358.3,961.0"/></g>
<text transform="translate(444.84,960.70) scale(1.0,1.045)" font-size="58.6" fill="#222" stroke="#fff" stroke-width="1.2">100 atm</text>
<text transform="translate(1490.98,649.40)" font-size="60" fill="#505050" stroke="#fff" stroke-width="1.3">H</text>
<text transform="translate(1534.39,672.10)" font-size="30" fill="#505050" stroke="#fff" stroke-width="0.6">2</text>
<text transform="translate(1574.80,649.40)" font-size="60" fill="#505050" stroke="#fff" stroke-width="1.3">/</text>
<text transform="translate(1608.45,649.40)" font-size="60" letter-spacing="-3.08" fill="#505050" stroke="#fff" stroke-width="1.3">CO</text>
<text transform="translate(1697.49,672.10)" font-size="30" fill="#505050" stroke="#fff" stroke-width="0.6">2</text>
<text transform="translate(1733.87,649.40)" font-size="60" fill="#505050" stroke="#fff" stroke-width="1.3">=</text>
<text transform="translate(1786.22,649.40)" font-size="60" fill="#505050" stroke="#fff" stroke-width="1.3">4</text>
<line x1="1493.8" y1="723.9" x2="1546.4" y2="723.9" stroke="#333" stroke-width="3"/>
<line x1="1580.4" y1="723.9" x2="1628.8" y2="723.9" stroke="#333" stroke-width="3"/>
<g fill="#000"><rect x="1551.3" y="711.8" width="24.2" height="24.2"/></g>
<text transform="translate(1647.04,744.00) scale(1.0,1.045)" font-size="58.6" fill="#222" stroke="#fff" stroke-width="1.2">1 atm</text>
<line x1="1493.8" y1="799.1" x2="1546.4" y2="799.1" stroke="#333" stroke-width="3"/>
<line x1="1580.4" y1="799.1" x2="1628.8" y2="799.1" stroke="#333" stroke-width="3"/>
<g fill="#000"><circle cx="1563.4" cy="799.1" r="13.2"/></g>
<text transform="translate(1647.04,818.40) scale(1.0,1.045)" font-size="58.6" fill="#222" stroke="#fff" stroke-width="1.2">10 atm</text>
<line x1="1493.8" y1="871.9" x2="1546.4" y2="871.9" stroke="#333" stroke-width="3"/>
<line x1="1580.4" y1="871.9" x2="1628.8" y2="871.9" stroke="#333" stroke-width="3"/>
<g fill="#000"><polygon points="1563.4,853.9 1579.4,880.9 1547.4,880.9"/></g>
<text transform="translate(1644.77,890.80) scale(1.0,1.045)" font-size="58.6" fill="#222" stroke="#fff" stroke-width="1.2">30 atm</text>
<line x1="1493.8" y1="946.4" x2="1546.4" y2="946.4" stroke="#333" stroke-width="3"/>
<line x1="1580.4" y1="946.4" x2="1628.8" y2="946.4" stroke="#333" stroke-width="3"/>
<g fill="#000"><polygon points="1547.4,937.4 1579.4,937.4 1563.4,964.4"/></g>
<text transform="translate(1647.04,966.40) scale(1.0,1.045)" font-size="58.6" fill="#222" stroke="#fff" stroke-width="1.2">100 atm</text>
<text transform="translate(260.48,1911.90)" font-size="60" fill="#505050" stroke="#fff" stroke-width="1.3">H</text>
<text transform="translate(303.79,1936.20)" font-size="30" fill="#505050" stroke="#fff" stroke-width="0.6">2</text>
<text transform="translate(345.10,1911.90)" font-size="60" fill="#505050" stroke="#fff" stroke-width="1.3">/</text>
<text transform="translate(377.45,1911.90)" font-size="60" letter-spacing="-2.18" fill="#505050" stroke="#fff" stroke-width="1.3">CO</text>
<text transform="translate(469.69,1936.20)" font-size="30" fill="#505050" stroke="#fff" stroke-width="0.6">2</text>
<text transform="translate(508.17,1911.90)" font-size="60" fill="#505050" stroke="#fff" stroke-width="1.3">=</text>
<text transform="translate(560.62,1911.90)" font-size="60" fill="#505050" stroke="#fff" stroke-width="1.3">4</text>
<line x1="262.1" y1="1988.2" x2="316.0" y2="1988.2" stroke="#333" stroke-width="3"/>
<line x1="350.0" y1="1988.2" x2="402.6" y2="1988.2" stroke="#333" stroke-width="3"/>
<g fill="#000"><rect x="320.9" y="1976.1" width="24.2" height="24.2"/></g>
<text transform="translate(419.17,2007.50) scale(1.0,1.045)" font-size="59.5" fill="#222" stroke="#fff" stroke-width="1.2">1 atm</text>
<line x1="262.1" y1="2064.1" x2="316.0" y2="2064.1" stroke="#333" stroke-width="3"/>
<line x1="350.0" y1="2064.1" x2="402.6" y2="2064.1" stroke="#333" stroke-width="3"/>
<g fill="#000"><circle cx="333.0" cy="2064.1" r="13.2"/></g>
<text transform="translate(419.17,2083.90) scale(1.0,1.045)" font-size="59.5" fill="#222" stroke="#fff" stroke-width="1.2">10 atm</text>
<line x1="262.1" y1="2140.9" x2="316.0" y2="2140.9" stroke="#333" stroke-width="3"/>
<line x1="350.0" y1="2140.9" x2="402.6" y2="2140.9" stroke="#333" stroke-width="3"/>
<g fill="#000"><polygon points="333.0,2122.9 349.0,2149.9 317.0,2149.9"/></g>
<text transform="translate(418.13,2159.10) scale(1.0,1.045)" font-size="59.5" fill="#222" stroke="#fff" stroke-width="1.2">30 atm</text>
<line x1="262.1" y1="2216.8" x2="316.0" y2="2216.8" stroke="#333" stroke-width="3"/>
<line x1="350.0" y1="2216.8" x2="402.6" y2="2216.8" stroke="#333" stroke-width="3"/>
<g fill="#000"><polygon points="317.0,2207.8 349.0,2207.8 333.0,2234.8"/></g>
<text transform="translate(419.17,2235.50) scale(1.0,1.045)" font-size="59.5" fill="#222" stroke="#fff" stroke-width="1.2">100 atm</text>
</g></svg></body></html>
